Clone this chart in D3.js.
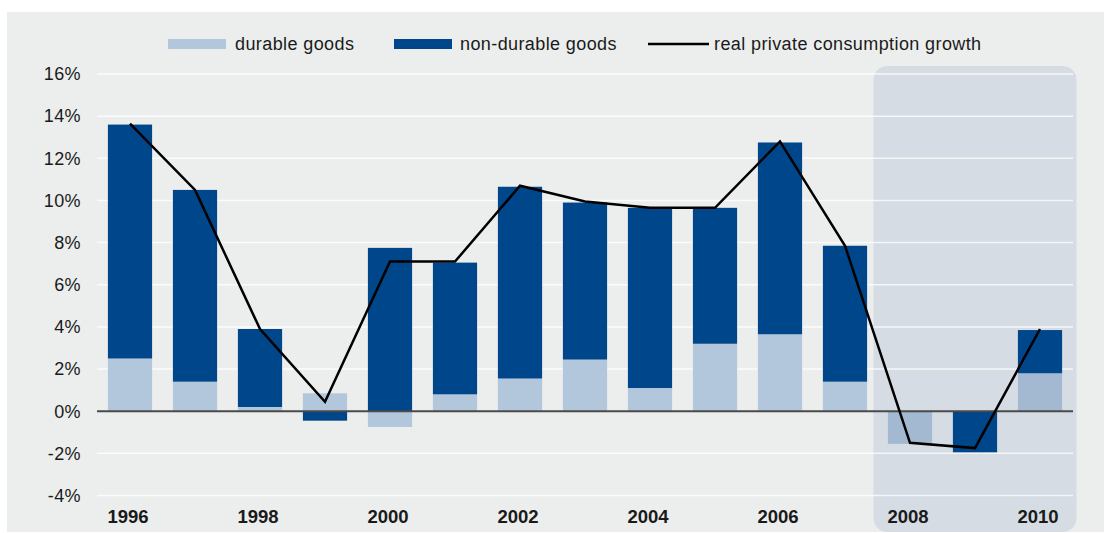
<!DOCTYPE html>
<html>
<head>
<meta charset="utf-8">
<script src="https://cdn.jsdelivr.net/npm/d3@7"></script>
<style>
  html, body { margin: 0; padding: 0; background: #fff; }
  svg text { font-family: "Liberation Sans", Arial, sans-serif; fill: #1a1a1a; }
</style>
</head>
<body>
<div class="chart"></div>
<script>
// consumption growth breakdown, % per year
var years = ["1996", "1997", "1998", "1999", "2000", "2001", "2002", "2003",
             "2004", "2005", "2006", "2007", "2008", "2009", "2010"];
var durable    = [2.5, 1.4, 0.2, 0.85, -0.75, 0.8, 1.55, 2.45, 1.1, 3.2, 3.65, 1.4, -1.55, 0, 1.8];
var nonDurable = [11.1, 9.1, 3.7, -0.45, 7.75, 6.25, 9.1, 7.45, 8.55, 6.45, 9.1, 6.45, 0, -1.95, 2.05];
var growth     = [13.65, 10.5, 3.9, 0.45, 7.1, 7.1, 10.7, 9.95, 9.65, 9.65, 12.8, 7.85, -1.5, -1.75, 3.9];
var yTicks = [-4, -2, 0, 2, 4, 6, 8, 10, 12, 14, 16];
var xLabels = ["1996", "1998", "2000", "2002", "2004", "2006", "2008", "2010"];
var highlightYears = ["2008", "2009", "2010"];
var legendItems = ["durable goods", "non-durable goods", "real private consumption growth"];

var width = 1104, height = 533;
var colors = {
  bg: "#eceeed",
  hl: "#d5dce4",
  durable: "#b3c7dc",
  durableHl: "#a3b9d2",
  nonDurable: "#00468a"
};

var svg = d3.select(".chart").append("svg")
  .attr("width", width)
  .attr("height", height);

// panel
svg.append("rect")
  .attr("x", 7).attr("y", 12)
  .attr("width", width - 7).attr("height", 520)
  .attr("fill", colors.bg);

var x = d3.scaleBand()
  .domain(years)
  .range([97.5, 1072.5])
  .paddingInner(0.32)
  .paddingOuter(0.16);

var y = d3.scaleLinear()
  .domain([-4, 16])
  .range([495.5, 74]);

var step = x.step();

// highlighted crisis years
var hx0 = x(highlightYears[0]) - step * 0.16 - 4,
    hx1 = x(highlightYears[highlightYears.length - 1]) + x.bandwidth() + step * 0.16 + 4;
svg.append("rect")
  .attr("x", hx0).attr("y", 66)
  .attr("width", hx1 - hx0).attr("height", 466)
  .attr("rx", 14).attr("ry", 14)
  .attr("fill", colors.hl);

// gridlines
svg.append("g")
  .selectAll("line")
  .data(yTicks.filter(d => d !== 0))
  .enter().append("line")
  .attr("x1", 97).attr("x2", 1073)
  .attr("y1", d => y(d)).attr("y2", d => y(d))
  .attr("stroke", "#fff")
  .attr("stroke-opacity", 0.75)
  .attr("stroke-width", 1.5);

// y axis labels
svg.append("g")
  .selectAll("text")
  .data(yTicks)
  .enter().append("text")
  .attr("x", 81)
  .attr("y", d => y(d))
  .attr("dy", "0.35em")
  .attr("text-anchor", "end")
  .attr("font-size", 18)
  .attr("letter-spacing", 0.4)
  .text(d => d + "%");

// stacked bars
var table = years.map((yr, i) => ({ year: yr, durable: durable[i], nonDurable: nonDurable[i] }));
var series = d3.stack()
  .keys(["durable", "nonDurable"])
  .offset(d3.stackOffsetDiverging)(table);

svg.append("g")
  .selectAll("g")
  .data(series)
  .enter().append("g")
  .selectAll("rect")
  .data(s => s.map(d => ({ key: s.key, year: d.data.year, y0: d[0], y1: d[1] })))
  .enter().append("rect")
  .attr("x", d => x(d.year))
  .attr("width", x.bandwidth())
  .attr("y", d => y(Math.max(d.y0, d.y1)))
  .attr("height", d => Math.abs(y(d.y0) - y(d.y1)))
  .attr("fill", d => {
    if (d.key === "nonDurable") return colors.nonDurable;
    return highlightYears.indexOf(d.year) >= 0 ? colors.durableHl : colors.durable;
  });

// zero line
svg.append("line")
  .attr("x1", 97).attr("x2", 1073)
  .attr("y1", y(0)).attr("y2", y(0))
  .attr("stroke", "#4a4a4a")
  .attr("stroke-width", 2);

// growth line
var line = d3.line()
  .x((d, i) => x(years[i]) + x.bandwidth() / 2)
  .y(d => y(d));

svg.append("path")
  .datum(growth)
  .attr("d", line)
  .attr("fill", "none")
  .attr("stroke", "#000")
  .attr("stroke-width", 2.5);

// x labels
svg.append("g")
  .selectAll("text")
  .data(xLabels)
  .enter().append("text")
  .attr("x", d => x(d) + x.bandwidth() / 2 - 2)
  .attr("y", 523)
  .attr("text-anchor", "middle")
  .attr("font-size", 18.5)
  .attr("font-weight", "bold")
  .text(d => d);

// legend
var legend = svg.append("g");
legend.append("rect")
  .attr("x", 168).attr("y", 39).attr("width", 58).attr("height", 10)
  .attr("fill", colors.durable);
legend.append("text")
  .attr("x", 235).attr("y", 50)
  .attr("font-size", 18).attr("letter-spacing", 0.4)
  .text(legendItems[0]);
legend.append("rect")
  .attr("x", 394).attr("y", 39).attr("width", 58).attr("height", 10)
  .attr("fill", colors.nonDurable);
legend.append("text")
  .attr("x", 460).attr("y", 50)
  .attr("font-size", 18).attr("letter-spacing", 0.4)
  .text(legendItems[1]);
legend.append("line")
  .attr("x1", 648).attr("x2", 709).attr("y1", 44).attr("y2", 44)
  .attr("stroke", "#000").attr("stroke-width", 2.5);
legend.append("text")
  .attr("x", 714).attr("y", 50)
  .attr("font-size", 18).attr("letter-spacing", 0.4)
  .text(legendItems[2]);
</script>
</body>
</html>
